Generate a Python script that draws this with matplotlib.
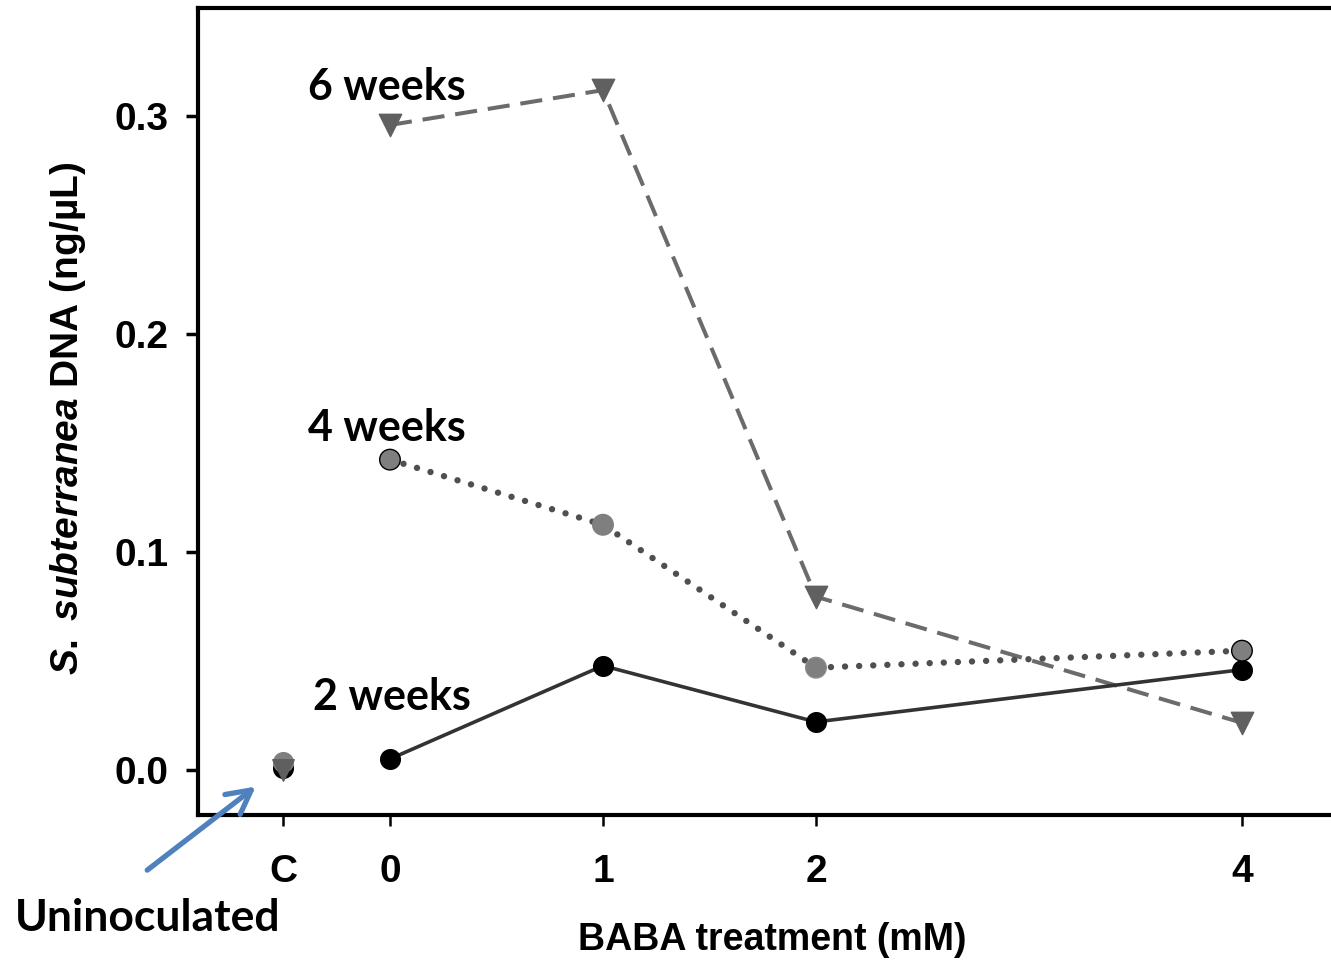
import matplotlib
matplotlib.use("Agg")
import matplotlib.pyplot as plt

plt.rcParams["mathtext.fontset"] = "custom"
plt.rcParams["mathtext.it"] = "Liberation Sans:italic:bold"
plt.rcParams["mathtext.rm"] = "Liberation Sans:bold"
plt.rcParams["mathtext.bf"] = "Liberation Sans:bold"

# Data
x_pos = [0, 1, 2, 4]
x_ctrl = -0.5
tick_positions = [-0.5, 0, 1, 2, 4]
tick_labels = ["C", "0", "1", "2", "4"]
y_ticks = [0.0, 0.1, 0.2, 0.3]

wk2 = [0.005, 0.0478, 0.022, 0.046]
wk4 = [0.1424, 0.1125, 0.0469, 0.0547]
wk6 = [0.296, 0.312, 0.0795, 0.0216]
ctrl_wk2 = 0.001
ctrl_wk4 = 0.0037
ctrl_wk6 = 0.0

fig = plt.figure(figsize=(13.31, 9.64), dpi=100)
ax = fig.add_axes([0.1488, 0.1546, 0.8512 + 0.01, 0.8371])

ax.set_xlim(-0.901, 4.418 + 0.01 * 1331 / 213)
ax.set_ylim(-0.0207, 0.3497)

# lines
ax.plot(x_pos, wk6, linestyle=(0, (5.5, 2.7)), color="#6b6b6b", lw=2.9, zorder=2)
ax.plot(x_pos, wk4, linestyle=(0, (0.01, 2.2)), color="#4f4f4f", lw=4.6,
        dash_capstyle="round", solid_capstyle="round", zorder=2)
ax.plot(x_pos, wk2, linestyle="-", color="#333333", lw=2.6, zorder=2)

# markers
ax.scatter(x_pos, wk2, s=200, color="black", zorder=3)
ax.scatter(x_pos, wk4, s=220, color="#7f7f7f",
           edgecolors=["black", "#7f7f7f", "#8a8a8a", "black"], linewidths=1.0, zorder=3)
ax.scatter(x_pos, wk6, s=260, marker="v", color="#606060", zorder=3)

# control points
ax.scatter([x_ctrl], [ctrl_wk2], s=200, color="black", zorder=3)
ax.scatter([x_ctrl], [ctrl_wk4], s=200, color="#7f7f7f", zorder=4)
ax.scatter([x_ctrl], [ctrl_wk6], s=240, marker="v", color="#5f5f5f", zorder=5)

# labels for series
lab_font = dict(family="Lato", fontweight="bold", fontsize=31)
ax.text(-0.385, 0.3134, "6 weeks", ha="left", va="center", **lab_font)
ax.text(-0.385, 0.157, "4 weeks", ha="left", va="center", **lab_font)
ax.text(-0.361, 0.0335, "2 weeks", ha="left", va="center", **lab_font)

# spines
for s in ["left", "top", "bottom"]:
    ax.spines[s].set_linewidth(3)
ax.spines["right"].set_visible(False)

ax.set_xticks(tick_positions)
ax.set_xticklabels(tick_labels)
ax.set_yticks(y_ticks)
ax.set_yticklabels([f"{v:.1f}" for v in y_ticks])
ax.tick_params(axis="y", direction="out", length=9, width=2.5, pad=12)
ax.tick_params(axis="x", direction="out", length=8, width=1.8, pad=20)
for lbl in ax.get_xticklabels() + ax.get_yticklabels():
    lbl.set_family("Liberation Sans")
    lbl.set_fontweight("bold")
    lbl.set_fontsize(28)

ax.set_xlabel("BABA treatment (mM)", family="Liberation Sans", fontweight="bold", fontsize=27)
ax.xaxis.set_label_coords((772 - 198) / (1331 * 0.8612), -(940 - 815) / (964 * 0.8371))
ax.xaxis.label.set_va("center")
ax.set_ylabel(r"$\it{S.}$ $\it{subterranea}$ DNA (ng/µL)", family="Liberation Sans",
              fontweight="bold", fontsize=28)
ax.yaxis.set_label_coords(-(198 - 68) / (1331 * 0.8612), (815 - 418) / (964 * 0.8371))
ax.yaxis.label.set_va("center")

# arrow + Uninoculated
ax.annotate("", xy=(-0.62, -0.0069), xytext=(-1.15, -0.0468),
            arrowprops=dict(arrowstyle="->,head_length=1.7,head_width=0.9",
                            color="#4f81bd", lw=3.8),
            annotation_clip=False)
fig.text(15 / 1331, 1 - 918 / 964, "Uninoculated", ha="left", va="center",
         family="Lato", fontweight="bold", fontsize=32)

fig.savefig("out.png", dpi=100)
